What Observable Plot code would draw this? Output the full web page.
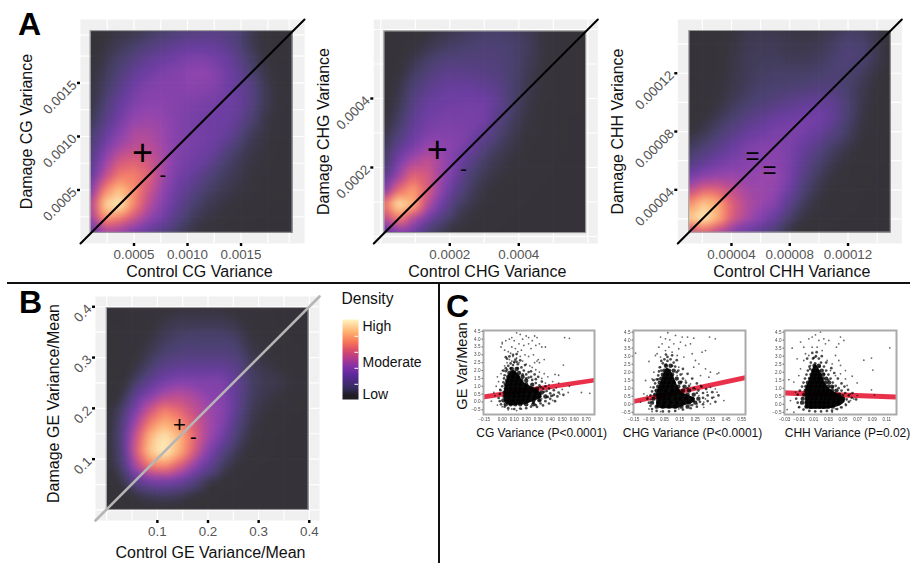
<!DOCTYPE html>
<html><head><meta charset="utf-8">
<script src="https://cdn.jsdelivr.net/npm/d3@7"></script>
<script src="https://cdn.jsdelivr.net/npm/@observablehq/plot@0.6"></script>
<style>
html,body{margin:0;padding:0;background:#fff}
#root{position:relative;width:910px;height:563px;overflow:hidden;font-family:"Liberation Sans",Arial,sans-serif;color:#111}
.t{position:absolute;white-space:nowrap;line-height:1}
.l{position:absolute;background:#111}
</style></head><body><div id="root"></div>
<script>
// density colour ramp
const rampStops=[0,5,14,30,42,52,62,72,84,100];
const rampColors=["#0c0810","#0e0a14","#241a50","#4e1690","#7c1fa0","#b02a80","#d8405c","#f86a4c","#fea860","#fff3b8"];

// density, rows top to bottom, columns left to right
const densA1=[
[2,4,6,8,10,13,16,18,20,20,18,10,5,3,2],
[3,6,10,13,18,22,26,28,28,26,20,10,5,3,2],
[4,8,14,20,26,30,33,36,36,32,25,14,6,3,2],
[5,10,18,27,32,36,38,42,42,36,28,18,8,4,2],
[6,12,22,32,37,38,38,40,38,34,28,22,10,5,3],
[6,16,28,36,40,40,38,36,34,32,30,22,10,5,3],
[8,20,32,42,44,42,38,34,32,31,28,18,8,4,2],
[12,26,38,48,48,44,38,34,32,30,24,12,7,4,2],
[16,33,46,52,52,46,38,34,32,26,16,9,6,4,2],
[20,42,58,62,58,48,36,32,28,18,11,7,5,3,2],
[24,52,70,72,64,46,34,28,20,13,9,6,4,3,2],
[34,72,88,76,58,42,30,22,14,10,7,5,3,2,1],
[46,92,100,74,52,38,26,16,10,7,5,3,2,1,1],
[42,76,70,56,42,32,20,11,7,5,3,2,1,1,1],
[26,46,42,32,26,18,12,7,4,3,2,1,1,1,1]];
const densA2=[
[1,2,3,5,7,9,11,13,13,12,10,6,3,2,1],
[2,3,5,8,11,13,15,16,16,14,11,6,3,2,1],
[2,4,8,13,17,18,18,18,17,14,10,6,3,2,1],
[2,5,12,18,23,24,23,21,19,14,9,5,3,2,1],
[3,7,16,24,28,29,29,26,22,14,8,5,3,2,1],
[3,9,20,29,31,32,33,32,25,13,7,4,3,2,1],
[4,12,24,32,34,34,34,33,20,11,6,4,2,1,1],
[6,16,28,35,37,36,34,26,15,9,5,3,2,1,1],
[8,24,34,44,42,38,30,18,11,7,4,3,2,1,1],
[12,34,48,54,46,34,22,12,8,5,3,2,1,1,1],
[20,44,64,60,44,30,15,9,6,4,2,2,1,1,1],
[34,66,80,62,40,22,11,6,4,3,2,1,1,1,1],
[68,100,86,52,30,14,8,4,3,2,1,1,1,1,1],
[52,72,50,32,18,9,5,3,2,1,1,1,1,1,1],
[22,34,28,14,8,4,2,1,1,1,1,1,1,1,1]];
const densA3=[
[1,2,3,5,8,9,8,7,6,7,9,12,12,8,3],
[1,2,4,6,9,10,10,8,8,9,12,16,15,9,3],
[1,2,4,7,10,11,11,10,10,11,14,18,15,9,3],
[1,2,4,7,10,12,13,13,13,14,16,14,11,6,2],
[1,2,5,8,11,14,15,16,17,19,19,14,9,5,2],
[2,3,6,10,14,17,20,23,26,28,25,16,8,4,2],
[3,5,9,14,20,24,29,31,33,33,27,15,7,3,1],
[5,8,14,21,27,31,35,35,33,28,20,12,5,3,1],
[10,15,22,29,35,38,38,35,28,21,13,8,4,2,1],
[18,24,31,35,38,40,40,34,24,15,9,5,3,2,1],
[30,38,42,44,42,44,44,34,20,11,6,4,2,1,1],
[50,62,62,54,46,44,42,30,15,8,4,3,2,1,1],
[74,90,82,62,50,44,38,22,10,5,3,2,1,1,1],
[90,100,84,60,48,38,28,13,6,3,2,1,1,1,1],
[50,60,48,36,28,22,14,6,3,2,1,1,1,1,1]];
const densB=[
[1,1,2,3,4,5,5,5,5,4,3,2,1,1,1],
[1,1,2,4,7,9,9,9,9,7,4,2,1,1,1],
[1,2,3,6,10,13,14,14,14,12,6,3,2,1,1],
[1,2,4,9,14,17,18,17,18,16,8,5,3,2,1],
[1,2,6,14,22,24,25,25,26,22,11,7,5,3,1],
[1,3,12,24,32,36,36,36,36,26,13,9,8,4,2],
[1,6,24,36,48,52,48,40,38,26,12,8,6,3,1],
[2,12,34,56,70,64,54,46,40,25,10,6,3,2,1],
[2,16,46,72,84,76,62,48,38,20,8,4,2,1,1],
[3,18,56,86,98,86,66,46,32,15,6,3,1,1,1],
[3,16,60,90,100,84,62,38,20,9,4,2,1,1,1],
[2,14,48,70,74,60,42,26,12,5,2,1,1,1,1],
[1,7,24,34,34,30,20,8,4,2,1,1,1,1,1],
[1,2,6,10,12,10,5,2,1,1,1,1,1,1,1],
[1,1,1,2,2,2,1,1,1,1,1,1,1,1,1]];

const a1Ticks=[0.0005,0.001,0.0015];
const a1Grid=[0.00025,0.0005,0.00075,0.001,0.00125,0.0015,0.00175,0.00195];
const a2Ticks=[0.0002,0.0004];
const a2Grid=[0,0.0001,0.0002,0.0003,0.0004,0.0005,0.0006];
const a3Ticks=[0.00004,0.00008,0.00012];
const a3Grid=[0.00002,0.00004,0.00006,0.00008,0.0001,0.00012,0.00014];
const bTicks=[0.1,0.2,0.3,0.4];
const bGrid=[0,0.05,0.1,0.15,0.2,0.25,0.3,0.35,0.4];

// scatter: scattered points [x,y]; points around the dense cloud; dense rows [y,[x...]]; outline of the cloud [x,lo,hi]
const cgSparse=[[0,3.8],[0,3.7],[-0.01,3.5],[0.03,3.9],[0.06,4],[0.08,4.1],[0.1,3.9],[0.12,4.4],[0.15,4.3],[0.17,4],[0.2,4.2],[0.22,4.1],[0.27,4.2],[0.29,4.1],[0.25,3.9],[0.31,3.7],[0.33,3.5],[0.36,3.5],[0.52,4.1],[0.56,4.05],[0.14,3.7],[0.18,3.6],[0.22,3.7],[0.24,3.4],[0.28,3.6],[0.08,3.5],[0.11,3.4],[0.13,3.2],[0.16,3.3],[0.05,3.2],[0.02,3.3],[0.07,3.1],[0.09,2.9],[0.12,2.8],[0.15,2.9],[0.19,3],[0.22,2.9],[0.26,3],[0.3,2.7],[0.27,2.5],[0.31,2.5],[0.29,2.6],[0.35,2.7],[0.51,2.35],[0.06,2.7],[0.04,2.5],[0.08,2.6],[0.1,2.5],[0.14,2.5],[0.17,2.6],[0.2,2.4],[0.23,2.3],[0.02,2.3],[0.25,2.2],[0.28,2.05],[0.31,1.9],[0.35,1.8],[0.38,1.6],[0.33,1.5],[0.42,1.3],[0.47,1.2],[0.56,1],[0.44,1.75],[0.47,1.7],[0.36,1.2],[0.39,1.1],[0.45,0.9],[0.5,0.8],[0.55,0.6],[0.66,0.6],[0.73,0.55],[0.48,0.5],[0.42,0.4],[0.37,0.3],[0.33,0.2],[0.42,0.1],[-0.05,1],[-0.03,1.3],[-0.02,0.8],[-0.07,0.6],[-0.04,1.6],[-0.09,0.05],[-0.04,-0.2],[-0.06,0.4],[0,-0.3],[0.05,-0.5],[0.08,-0.45],[0.12,-0.55],[0.16,-0.45],[-0.01,1.8],[0,2]];
const cgHalo=[[0,1],[0.01,1.25],[0.015,1.5],[0.02,1.7],[0.03,1.95],[0.03,2.15],[0.05,2.3],[0.07,2.45],[0.1,2.55],[0.13,2.4],[0.16,2.2],[0.18,2],[0.2,1.75],[0.22,1.55],[0.25,1.4],[0.28,1.2],[0.31,1.05],[0.34,0.85],[0.37,0.7],[0.4,0.55],[0.43,0.45],[0.46,0.35],[0.4,0.2],[0.36,0.05],[0.32,-0.1],[0.28,-0.2],[0.24,-0.3],[0.2,-0.4],[0.15,-0.42],[0.1,-0.45],[0.05,-0.4],[0.02,-0.3],[-0.01,-0.15],[-0.02,0.05],[-0.03,0.25],[-0.02,0.5],[-0.015,0.75],[0.06,2.9],[0.04,2.75],[0.11,2.7],[0.15,2.65],[0.19,2.35],[0.09,3],[0.12,3.05],[0.03,2.85],[0.24,1.95],[0.27,1.75],[0.3,1.6],[0.33,1.3],[0.36,1],[0.39,0.85],[0.43,0.75],[0.47,0.6],[0.51,0.45],[0.44,0.05],[0.39,-0.1],[0.34,-0.22],[0.29,-0.32],[0.04,2.05],[0.09,2.35],[0.13,2.15],[0.17,1.75],[0.2,1.5],[0.24,1.6],[0.28,1.45],[0.32,0.95],[0.35,0.65],[0.41,0.38],[0.38,0.32],[0.31,0.1],[0.26,-0.05],[0.01,2],[0.12,2.55],[0.07,2.15],[0.22,1.9]];
const cgCore=[[-0.15,[0.03,0.07,0.11,0.15,0.2,0.26]],[0.1,[0.01,0.05,0.09,0.13,0.17,0.21,0.26,0.31]],[0.35,[0.02,0.06,0.1,0.14,0.18,0.22,0.27,0.31,0.36]],[0.6,[0.02,0.06,0.1,0.14,0.18,0.23,0.28,0.33]],[0.85,[0.03,0.07,0.11,0.15,0.19,0.24,0.29]],[1.1,[0.03,0.07,0.11,0.15,0.2,0.25]],[1.35,[0.04,0.08,0.12,0.16,0.2]],[1.6,[0.05,0.09,0.13,0.17]],[1.85,[0.06,0.1,0.14]],[2.1,[0.08,0.12]]];
const cgCloud=[[0.02,0,0.7],[0.054,-0.2,1.7],[0.096,-0.25,2],[0.14,-0.2,1.7],[0.18,-0.2,1.25],[0.235,-0.05,1],[0.29,0.1,0.8],[0.33,0.25,0.55]];
const chgSparse=[[-0.137,3.19],[0.014,3.56],[0.025,4.19],[0.057,4.08],[0.072,4.46],[0.085,4.02],[0.122,4.29],[0.165,4.19],[0.2,4.19],[0.24,4.12],[0.342,4.19],[0.38,4.08],[0.003,3.15],[-0.008,3.04],[0.035,3.77],[0.079,3.56],[0.111,3.77],[0.154,3.88],[0.187,3.67],[0.219,3.77],[0.143,3.46],[0.1,3.25],[0.057,3.35],[0.025,2.94],[-0.05,2.67],[0.133,3.04],[0.176,2.94],[0.251,2.73],[0.23,3.15],[0.294,3.25],[0.316,3.35],[0.273,2.52],[0.24,2.31],[0.316,2.21],[0.348,2],[0.391,1.9],[0.402,1.96],[0.284,1.79],[0.338,1.69],[-0.072,1.48],[-0.03,1.58],[-0.083,0.65],[-0.062,0.54],[-0.105,0.13],[-0.04,0.29],[-0.05,-0.29],[-0.03,-0.46],[0.025,-0.46],[0.435,0.23],[0.391,0.75],[0.37,0.44],[0.348,0.02],[0.305,0.13],[0.348,1.06],[0.38,0.96],[0.327,0.75],[0.284,1.17],[0.273,0.54],[0.316,0.33],[0.262,0.02],[0.219,-0.08],[0.305,-0.19],[0.143,-0.29],[0.251,0.96],[0.219,1.27],[0.187,1.48],[0.165,1.9],[0.143,2.31],[0.133,1.79],[0.025,2.31],[-0.018,2],[-0.04,1.06],[-0.008,0.85]];
const chgHalo=[[-0.05,0.1],[-0.06,0.35],[-0.04,0.55],[-0.03,0.8],[-0.02,1.05],[-0.01,1.3],[0,1.55],[0.01,1.8],[0.015,2.05],[0.02,2.3],[0.04,2.55],[0.05,2.8],[0.07,2.95],[0.09,2.8],[0.11,2.6],[0.12,2.35],[0.14,2.1],[0.155,1.85],[0.17,1.6],[0.19,1.35],[0.21,1.15],[0.24,1],[0.27,0.85],[0.3,0.7],[0.33,0.55],[0.36,0.4],[0.33,0.2],[0.3,0],[0.26,-0.15],[0.22,-0.25],[0.17,-0.33],[0.12,-0.42],[0.08,-0.45],[0.04,-0.45],[0,-0.42],[-0.03,-0.3],[-0.04,-0.1],[0.03,2.7],[0.1,3.05],[0.06,3.1],[0.13,2.75],[0.17,2.2],[0.2,1.9],[0.23,1.6],[0.26,1.3],[0.29,1.1],[0.32,0.95],[0.36,0.75],[0.4,0.55],[0.38,0.15],[0.03,2.1],[0.06,2.45],[0.1,2.4],[0.13,2.0],[0.16,1.4],[0.2,1.0],[0.26,0.7],[0.3,0.4],[0.28,0.15],[0.23,-0.05],[-0.02,1.5],[0.01,1.55],[0.07,2.7]];
const chgCore=[[-0.15,[0,0.04,0.08,0.12,0.16,0.2]],[0.1,[-0.03,0.01,0.05,0.09,0.13,0.17,0.21,0.25]],[0.35,[-0.02,0.02,0.05,0.08,0.12,0.15,0.19,0.23,0.27]],[0.6,[-0.01,0.02,0.05,0.09,0.12,0.16,0.2,0.24]],[0.85,[0,0.03,0.06,0.1,0.13,0.17,0.21]],[1.1,[0.01,0.04,0.07,0.1,0.14,0.18]],[1.35,[0.02,0.05,0.08,0.11,0.15]],[1.6,[0.03,0.06,0.09,0.13]],[1.85,[0.04,0.07,0.1]],[2.1,[0.05,0.08,0.11]],[2.4,[0.06,0.09]]];
const chgCloud=[[0,-0.2,0.7],[0.035,-0.28,1.55],[0.068,-0.28,2.25],[0.1,-0.28,1.95],[0.133,-0.28,1.2],[0.165,-0.15,0.75],[0.208,-0.02,0.55],[0.25,0.12,0.38]];
const chhSparse=[[-0.0195,3.5],[-0.0127,2.83],[-0.008,3.88],[-0.0036,3.56],[0.0033,4.08],[0.0078,4.19],[0.0124,4.33],[0.0192,4.5],[0.017,3.98],[0.0238,4.08],[0.0306,3.98],[0.026,3.77],[0.0147,3.56],[0.0078,3.56],[0.0215,3.35],[0.0466,4.19],[0.0512,3.98],[0.0443,3.77],[0.0411,3.56],[0.0398,3.04],[0.0443,2.73],[0.0352,2.52],[0.0466,2.42],[0.0534,2.1],[0.0626,1.75],[0.0534,1.58],[0.0466,1.9],[0.0694,1.33],[0.1141,3.52],[0.0785,2.75],[0.089,2.88],[0.0908,2.13],[0.089,0.9],[0.0931,0.58],[0.0694,0.54],[0.0603,0.65],[-0.024,1.54],[-0.0172,1.38],[-0.015,0.75],[-0.0218,0.23],[-0.0264,-0.33],[-0.0172,-0.5],[-0.0104,-0.19],[0.0352,-0.5],[0.0398,-0.29],[-0.0036,2.73],[0.0033,3.04],[0.0284,2.73],[-0.0081,2.21],[-0.0104,1.79],[0.0329,2.1],[0.0398,1.79],[0.0557,1.17],[0.0603,0.23],[0.0534,0.02],[0.0466,-0.19],[0.0648,0.33],[-0.0013,3.15],[0.0124,2.94],[0.0056,2.42]];
const chhHalo=[[-0.012,0.1],[-0.014,0.35],[-0.012,0.6],[-0.009,0.85],[-0.006,1.1],[-0.004,1.35],[-0.002,1.6],[0,1.85],[0.002,2.1],[0.004,2.35],[0.006,2.6],[0.009,2.85],[0.013,3],[0.017,2.85],[0.02,2.6],[0.024,2.35],[0.027,2.1],[0.03,1.85],[0.033,1.6],[0.036,1.35],[0.04,1.15],[0.044,1],[0.048,0.85],[0.053,0.7],[0.058,0.55],[0.062,0.4],[0.058,0.15],[0.054,-0.05],[0.048,-0.2],[0.042,-0.3],[0.035,-0.4],[0.028,-0.42],[0.02,-0.45],[0.012,-0.45],[0.004,-0.42],[-0.004,-0.33],[-0.01,-0.18],[0.001,2.85],[0.008,3.2],[0.014,3.25],[0.021,3],[0.027,2.6],[0.034,2.25],[0.038,1.95],[0.043,1.6],[0.048,1.3],[0.052,1.1],[0.057,0.9],[0.063,0.7],[0.068,0.3],[0.005,2.2],[0.012,2.55],[0.018,2.35],[0.024,1.9],[0.03,1.5],[0.036,1.05],[0.05,0.55],[0.055,0.3],[0.045,0],[0.01,2.9]];
const chhCore=[[-0.15,[0,0.006,0.012,0.018,0.024,0.03,0.036]],[0.1,[-0.006,0,0.006,0.012,0.018,0.024,0.03,0.037,0.043]],[0.35,[-0.005,0.001,0.007,0.013,0.02,0.026,0.032,0.038,0.044,0.05]],[0.6,[-0.003,0.003,0.009,0.015,0.021,0.027,0.033,0.039,0.045]],[0.85,[-0.001,0.005,0.011,0.017,0.023,0.029,0.035,0.041]],[1.1,[0,0.006,0.012,0.018,0.024,0.03,0.035]],[1.35,[0.002,0.008,0.014,0.02,0.026,0.031]],[1.6,[0.005,0.011,0.017,0.022,0.027]],[1.85,[0.007,0.012,0.018,0.023]],[2.1,[0.009,0.015,0.021]],[2.4,[0.011,0.017]]];
const chhCloud=[[-0.001,-0.25,0.9],[0.0056,-0.32,1.7],[0.0124,-0.32,2.45],[0.0192,-0.32,2.05],[0.026,-0.32,1.3],[0.035,-0.25,0.85],[0.0466,-0.1,0.55],[0.053,0.12,0.38]];

const cgBandX=[-0.156,0.769], cgBandLo=[0.13,1.2], cgBandHi=[0.44,1.5];
const chgBandX=[-0.15,0.575], chgBandLo=[-0.02,1.46], chgBandHi=[0.28,1.78];
const chhBandX=[-0.03,0.1232], chhBandLo=[0.52,0.27], chhBandHi=[0.84,0.58];
const cgXTicks=[-0.15,0,0.1,0.2,0.3,0.4,0.5,0.6,0.7];
const chgXTicks=[-0.15,-0.05,0.05,0.15,0.25,0.35,0.45,0.55];
const chhXTicks=[-0.03,-0.01,0.01,0.03,0.05,0.07,0.09,0.11];
const scatterYTicks=[-0.5,0,0.5,1,1.5,2,2.5,3,3.5,4,4.5];

const root=document.getElementById("root");
const FONT='"Liberation Sans",Arial,sans-serif';
const colorScale={type:"linear",domain:rampStops,range:rampColors};

function place(el,left,top){el.style.position="absolute";el.style.left=left+"px";el.style.top=top+"px";root.appendChild(el);}
function addText(txt,x,y,css){const d=document.createElement("div");d.className="t";d.textContent=txt;d.style.left=x+"px";d.style.top=y+"px";Object.assign(d.style,css||{});root.appendChild(d);return d;}

function heat(o){
  const [x0,x1]=o.xDomain,[y0,y1]=o.yDomain;
  const n=o.dens.length-1, pts=[];
  o.dens.forEach((row,r)=>row.forEach((v,c)=>pts.push({
    x:o.rx[0]+(o.rx[1]-o.rx[0])*c/n,
    y:o.ry[1]+(o.ry[0]-o.ry[1])*r/n,v})));
  const p=Plot.plot({
    width:o.W,height:o.H,marginLeft:o.mL,marginRight:o.W-o.mL-224,marginTop:o.mT,marginBottom:o.H-o.mT-224,
    x:{domain:o.xDomain},y:{domain:o.yDomain},color:colorScale,
    style:{background:"transparent",fontFamily:FONT},
    marks:[
      Plot.frame({fill:"#f0f0f0",stroke:null}),
      Plot.ruleX(o.grid,{stroke:"#fff",strokeWidth:1.2}),
      Plot.ruleY(o.grid,{stroke:"#fff",strokeWidth:1.2}),
      Plot.raster(pts,{x:"x",y:"y",fill:"v",interpolate:"barycentric",x1:o.rx[0],x2:o.rx[1],y1:o.ry[0],y2:o.ry[1],pixelSize:1,blur:3,opacity:.82}),
      Plot.rect([0],{x1:o.rx[0],x2:o.rx[1],y1:o.ry[0],y2:o.ry[1],stroke:"#9a9a9a",strokeWidth:1,fill:"none"}),
      Plot.line([[x0,y0],[x1,y1]],{x:d=>d[0],y:d=>d[1],stroke:o.diag,strokeWidth:o.diagW}),
      Plot.text(o.marks,{x:d=>d[1],y:d=>d[2],text:d=>d[0],fontSize:d=>d[3],fill:"#000",fontFamily:FONT}),
      Plot.axisX({ticks:o.ticks,tickFormat:o.fmt,label:null,tickSize:3,stroke:"#000",strokeWidth:2.4,fill:"#555",fontSize:13.4,tickPadding:3}),
      Plot.axisY({ticks:o.ticks,tickFormat:o.fmt,label:null,tickSize:3,stroke:"#000",strokeWidth:2.4,fill:"#555",fontSize:13.4,tickRotate:-45,tickPadding:3}),
      Plot.text([o.xLabel],{frameAnchor:"bottom",text:d=>d,dy:o.xOff,dx:o.xDx||0,fontSize:16,fill:"#111",lineAnchor:"middle",fontFamily:FONT}),
      Plot.text([o.yLabel],{frameAnchor:"left",text:d=>d,dx:-o.yOff,dy:o.yDy||0,rotate:-90,fontSize:16,fill:"#111",lineAnchor:"middle",textAnchor:"middle",fontFamily:FONT})
    ]});
  place(p,o.left,o.top);
}

heat({left:0,top:0,W:310,H:283,mL:80,mT:19,xDomain:[0,0.002093],yDomain:[0,0.002093],rx:[0.0000935,0.001981],ry:[0.0001,0.001985],dens:densA1,ticks:a1Ticks,grid:a1Grid,fmt:d3.format(".4f"),xLabel:"Control CG Variance",yLabel:"Damage CG Variance",xOff:28,xDx:7,yOff:54,diag:"#000",diagW:2,marks:[["+",0.00058,0.00084,36],["-",0.00077,0.00063,20]]});
heat({left:310,top:0,W:290,H:283,mL:63.3,mT:19,xDomain:[-0.0000203,0.000629],yDomain:[-0.0000203,0.000629],rx:[0.00001,0.000595],ry:[0.00001,0.000595],dens:densA2,ticks:a2Ticks,grid:a2Grid,fmt:d3.format(".4f"),xLabel:"Control CHG Variance",yLabel:"Damage CHG Variance",xOff:28,xDx:1.5,yOff:50,diag:"#000",diagW:2,marks:[["+",0.000164,0.000249,36],["-",0.00024,0.000194,20]]});
heat({left:600,top:0,W:310,H:283,mL:77.3,mT:19,xDomain:[0.00000316,0.0001569],yDomain:[0.00000316,0.0001569],rx:[0.0000110,0.0001493],ry:[0.0000107,0.0001490],dens:densA3,ticks:a3Ticks,grid:a3Grid,fmt:d3.format(".5f"),xLabel:"Control CHH Variance",yLabel:"Damage CHH Variance",xOff:28,xDx:2,yOff:60,diag:"#000",diagW:2,marks:[["=",0.0000544,0.0000628,24],["=",0.0000661,0.0000532,24]]});
heat({left:0,top:277,W:325,H:283,mL:95,mT:19,xDomain:[-0.0222,0.4202],yDomain:[-0.0208,0.4202],rx:[0,0.3985],ry:[0,0.3975],dens:densB,ticks:bTicks,grid:bGrid,fmt:d3.format(".1f"),xLabel:"Control GE Variance/Mean",yLabel:"Damage GE Variance/Mean",xOff:32,xDx:3,yOff:42,yDy:-5,diag:"#b5b5b5",diagW:2.6,marks:[["+",0.1437,0.167,22],["-",0.171,0.142,20]]});

// legend
addText("Density",341.5,291,{fontSize:"15.6px"});
const legendLevels=d3.range(100,-1,-1);
const legendTicks=[19,39,59,79];
const legendVals=[91,46,6], legendLabels=["High","Moderate","Low"];
place(Plot.plot({
  width:100,height:100,marginLeft:2,marginRight:82,marginTop:10,marginBottom:10,
  x:{domain:[0,1],axis:null},y:{domain:[0,100]},color:colorScale,style:{background:"transparent",fontFamily:FONT},
  marks:[
    Plot.raster(legendLevels,{width:1,height:legendLevels.length,x1:0,x2:1,y1:100,y2:0,opacity:.92}),
    Plot.ruleY(legendTicks,{x1:.78,x2:1,stroke:"#fff",strokeWidth:1}),
    Plot.axisY({anchor:"right",ticks:legendVals,tickFormat:d=>legendLabels[legendVals.indexOf(d)],tickSize:0,tickPadding:4,label:null,fontSize:14,fill:"#111"})
  ]}),340,309);

// scatter panels
function scatter(o){
  const band=o.bandX.map((x,i)=>({x,lo:o.bandLo[i],hi:o.bandHi[i]}));
  const core=o.core.flatMap(([y,xs])=>xs.map(x=>[x,y]));
  const p=Plot.plot({
    width:o.W,height:o.H,marginLeft:o.mL,marginRight:o.W-o.mL-o.pw,marginTop:o.mT,marginBottom:o.H-o.mT-o.ph,
    x:{domain:o.xDomain},y:{domain:o.yDomain},
    style:{background:"transparent",fontFamily:FONT,filter:"blur(0.4px)"},
    marks:[
      Plot.areaY(band,{x:"x",y1:"lo",y2:"hi",fill:"#e8203c",fillOpacity:.92}),
      Plot.areaY(o.cloud,{x:d=>d[0],y1:d=>d[1],y2:d=>d[2],fill:"#000",fillOpacity:.95,curve:"catmull-rom"}),
      Plot.dot(core,{x:d=>d[0],y:d=>d[1],r:2.2,fill:"#000",fillOpacity:.8,stroke:null}),
      Plot.dot(o.halo,{x:d=>d[0],y:d=>d[1],r:1.35,fill:"#000",fillOpacity:.7,stroke:null}),
      Plot.dot(o.sparse,{x:d=>d[0],y:d=>d[1],r:.9,fill:"#000",fillOpacity:.6,stroke:null}),
      Plot.frame({stroke:"#aaa",strokeWidth:2}),
      Plot.axisX({ticks:o.xTicks,tickFormat:d3.format(".2f"),label:null,tickSize:0,tickPadding:3.5,fontSize:4.6,fill:"#444"}),
      Plot.axisY({ticks:scatterYTicks,tickFormat:d3.format(".1f"),label:null,tickSize:1.5,tickPadding:1.5,fontSize:4.6,fill:"#444",stroke:"#666"})
    ]});
  place(p,o.left,o.top);
}
scatter({left:468,top:320,W:132,H:112,mL:15,mT:10,pw:111,ph:84,xDomain:[-0.156,0.769],yDomain:[-0.8,4.55],cloud:cgCloud,core:cgCore,halo:cgHalo,sparse:cgSparse,bandX:cgBandX,bandLo:cgBandLo,bandHi:cgBandHi,xTicks:cgXTicks});
scatter({left:618,top:320,W:132,H:112,mL:15,mT:10,pw:112,ph:84,xDomain:[-0.15,0.575],yDomain:[-0.64,4.6],cloud:chgCloud,core:chgCore,halo:chgHalo,sparse:chgSparse,bandX:chgBandX,bandLo:chgBandLo,bandHi:chgBandHi,xTicks:chgXTicks});
scatter({left:769,top:320,W:132,H:112,mL:15,mT:10,pw:112,ph:84,xDomain:[-0.03,0.1232],yDomain:[-0.64,4.6],cloud:chhCloud,core:chhCore,halo:chhHalo,sparse:chhSparse,bandX:chhBandX,bandLo:chhBandLo,bandHi:chhBandHi,xTicks:chhXTicks});

// panel C titles
const gv=addText("GE Var/Mean",462,366,{fontSize:"14.6px"});
gv.style.transform="translate(-50%,-50%) rotate(-90deg)";
[["CG Variance (P<0.0001)",541.7],["CHG Variance (P<0.0001)",692.5],["CHH Variance (P=0.02)",847.5]].forEach(([t,x])=>{
  const d=addText(t,x,433,{fontSize:"12px"});d.style.transform="translate(-50%,-50%)";
});

// panel letters and dividers
addText("A",18,8,{fontSize:"32px",fontWeight:"700",color:"#000"});
addText("B",19,286,{fontSize:"32px",fontWeight:"700",color:"#000"});
addText("C",446,290,{fontSize:"32px",fontWeight:"700",color:"#000"});
[[7,282,903,1.6],[438,283,1.6,280]].forEach(([l,t,w,h])=>{
  const d=document.createElement("div");d.className="l";Object.assign(d.style,{left:l+"px",top:t+"px",width:w+"px",height:h+"px"});root.appendChild(d);
});
</script></body></html>
